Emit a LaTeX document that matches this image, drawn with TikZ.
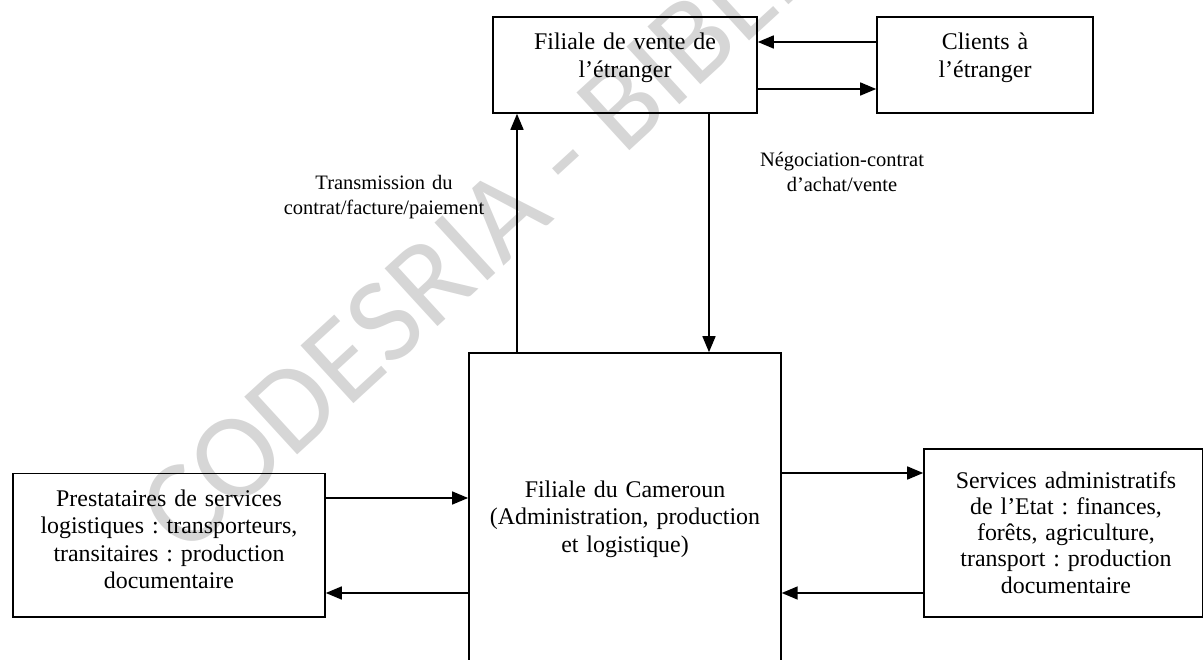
\documentclass[tikz,border=0pt]{standalone}
\usepackage{fontspec}
\setmainfont{Liberation Serif}
\newfontfamily\wmfont{Carlito}
\usetikzlibrary{arrows.meta}
\definecolor{wmgray}{RGB}{214,214,214}
\frenchspacing
\tikzset{
  box/.style={draw=black, line width=1.6pt, rectangle, inner sep=0pt},
  boxtext/.style={anchor=base, text width=320pt, align=center, inner sep=0pt,
    font=\fontsize{23.9pt}{27.5pt}\selectfont},
  lbl/.style={anchor=base, text width=320pt, align=center, inner sep=0pt,
    font=\fontsize{20.5pt}{25pt}\selectfont},
  arr/.style={line width=1.6pt, -{Triangle[length=16pt,width=13pt]}},
}
\begin{document}
\begin{tikzpicture}[x=1pt,y=-1pt]
\useasboundingbox (0,0) rectangle (1203,660);
\clip (0,0) rectangle (1203,660);
% watermark
\node[text=wmgray, font=\wmfont\fontsize{122pt}{122pt}\selectfont, anchor=base west, rotate=42.5, inner sep=0pt] (wm) at (185,558) {CODESRIA - BIBLIOTHEQUE};
% boxes
\node[box, minimum width=264pt, minimum height=96pt] (fv) at (625,65) {};
\node[box, minimum width=216pt, minimum height=96pt] (cl) at (985,65) {};
\node[box, minimum width=312pt, minimum height=400pt] (fc) at (624.9,553) {};
\node[box, minimum width=312pt, minimum height=143.5pt] (pr) at (169,545.25) {};
\node[box, minimum width=278.5pt, minimum height=168pt] (sa) at (1063.25,533) {};
% texts
\node[boxtext] (fvt) at (625,50) {Filiale de vente de\\ l’étranger};
\node[boxtext] (clt) at (985,50) {Clients à\\ l’étranger};
\node[boxtext] (fct) at (625,497) {Filiale du Cameroun\\ (Administration, production\\ et logistique)};
\node[boxtext] (prt) at (169,506) {Prestataires de services\\ logistiques : transporteurs,\\ transitaires : production\\ documentaire};
\node[boxtext, font=\fontsize{23.9pt}{26.3pt}\selectfont] (sat) at (1066,488) {Services administratifs\\ de l’Etat : finances,\\ forêts, agriculture,\\ transport : production\\ documentaire};
\node[lbl] (l1) at (384,190) {Transmission du\\ contrat/facture/paiement};
\node[lbl] (l2) at (842,167) {Négociation-contrat\\ d’achat/vente};
% helper levels
\coordinate (y42) at (0,42);
\coordinate (y89) at (0,89);
\coordinate (x517) at (517,0);
\coordinate (x709) at (709,0);
\coordinate (y498) at (0,498);
\coordinate (y593) at (0,593);
\coordinate (y473) at (0,473);
% connectors
\draw[arr] (cl.west |- y42) -- (fv.east |- y42);
\draw[arr] (fv.east |- y89) -- (cl.west |- y89);
\draw[arr] (x517 |- fc.north) -- (x517 |- fv.south);
\draw[arr] (x709 |- fv.south) -- (x709 |- fc.north);
\draw[arr] (pr.east |- y498) -- (fc.west |- y498);
\draw[arr] (fc.west |- y593) -- (pr.east |- y593);
\draw[arr] (fc.east |- y473) -- (sa.west |- y473);
\draw[arr] (sa.west |- y593) -- (fc.east |- y593);
\end{tikzpicture}
\end{document}
